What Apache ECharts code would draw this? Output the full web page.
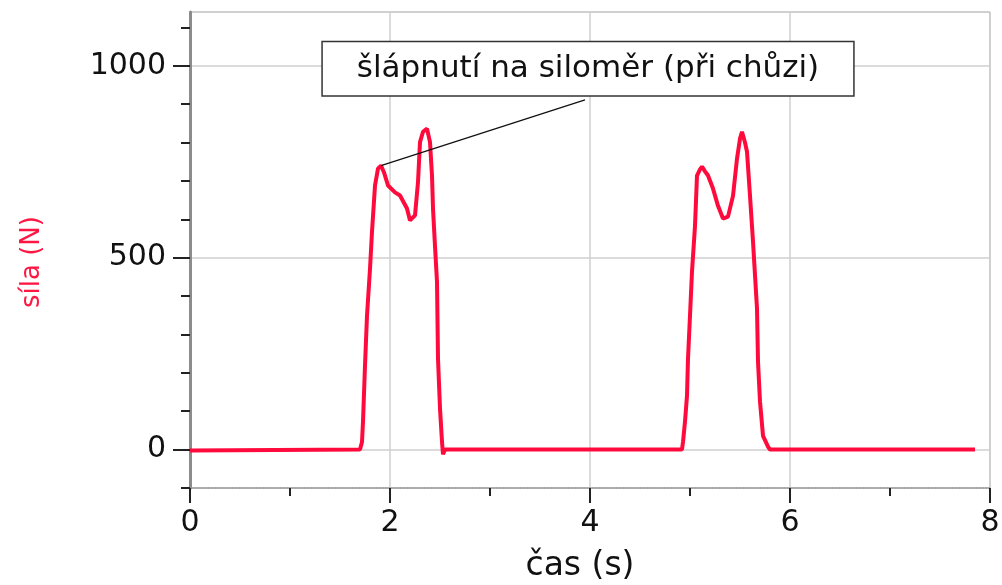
<!DOCTYPE html>
<html>
<head>
<meta charset="utf-8">
<script src="https://cdn.jsdelivr.net/npm/echarts@6/dist/echarts.min.js"></script>
<style>
  html, body { margin: 0; padding: 0; background: #fff; }
  #chart { width: 1002px; height: 585px; }
</style>
</head>
<body>
<div id="chart"></div>
<script>
// čas (s)
const casS = [
  0, 1.70, 1.72, 1.73, 1.75, 1.77, 1.80, 1.82, 1.85, 1.88, 1.91,
  1.94, 1.98, 2.05, 2.10, 2.17, 2.20, 2.22, 2.25, 2.28, 2.30, 2.33, 2.37, 2.40, 2.42,
  2.43, 2.45, 2.47, 2.48, 2.50, 2.52, 2.53, 2.55, 2.60,
  4.92, 4.93, 4.95, 4.97, 4.98, 5.00, 5.02, 5.05, 5.07, 5.10, 5.12, 5.15, 5.18, 5.23,
  5.28, 5.33, 5.38, 5.43, 5.47, 5.50, 5.52, 5.55, 5.57, 5.60, 5.63, 5.67, 5.68, 5.70,
  5.73, 5.78, 5.80, 7.85
];
// síla (N)
const silaN = [
  -2, 0, 20, 73, 219, 349, 471, 568, 688, 732, 740,
  722, 688, 670, 662, 628, 597, 593, 610, 697, 801, 828, 836, 801, 714,
  628, 530, 437, 237, 107, 21, -12, 0, 0,
  0, 20, 73, 141, 237, 349, 464, 583, 714, 730, 737, 725, 714, 680,
  635, 602, 607, 661, 758, 810, 828, 800, 776, 661, 542, 367, 229, 125,
  36, 8, 0, 0
];
// osa y: malé dílky po 100, popisky po 500
const yMinorTicks = [-100, 0, 100, 200, 300, 400, 500, 600, 700, 800, 900, 1000, 1100];
const yMajorTicks = [0, 500, 1000];
const xLabels = [0, 2, 4, 6, 8];

// popisek
const poznamka = 'šlápnutí na siloměr (při chůzi)';
const poznamkaBod = [3.98, 992];
const odkazOd = [1.91, 740];
const odkazDo = [3.95, 911];

const chart = echarts.init(document.getElementById('chart'), null, { renderer: 'canvas' });

const font = 'DejaVu Sans';

const option = {
  animation: false,
  grid: {
    left: 190,
    right: 12,
    top: 12,
    bottom: 97,
    outerBoundsMode: 'none',
    containLabel: false,
    show: true,
    borderColor: '#a0a0a0',
    borderWidth: 1
  },
  xAxis: {
    type: 'value',
    min: 0,
    max: 8,
    interval: 2,
    name: 'čas (s)',
    nameLocation: 'middle',
    nameGap: 62,
    nameTextStyle: { fontFamily: font, fontSize: 33, color: '#111', padding: [0, 20, 0, 0] },
    axisLine: { onZero: false, lineStyle: { color: '#999', width: 1.5, type: 'dotted' } },
    axisTick: { show: true, length: 15, lineStyle: { color: '#222', width: 2 } },
    minorTick: { show: true, splitNumber: 2, length: 8, lineStyle: { color: '#222', width: 2 } },
    axisLabel: {
      fontFamily: font, fontSize: 30, color: '#111', margin: 20,
      formatter: function (v) { return xLabels.indexOf(v) >= 0 ? String(v) : ''; }
    },
    splitLine: { show: true, lineStyle: { color: '#cfcfcf', width: 1.5 } },
    minorSplitLine: { show: false }
  },
  yAxis: [
    {
      type: 'value',
      min: -100,
      max: 1140,
      interval: 100,
      position: 'left',
      name: 'síla (N)',
      nameLocation: 'middle',
      nameRotate: 90,
      nameGap: 145,
      nameTextStyle: { fontFamily: font, fontSize: 26, color: '#ff1744', padding: [0, 24, 0, 0] },
      axisLine: { show: true, onZero: false, lineStyle: { color: '#8c8c8c', width: 3 } },
      axisTick: { show: true, length: 9, customValues: yMinorTicks, lineStyle: { color: '#222', width: 2 } },
      axisLabel: {
        fontFamily: font, fontSize: 30, color: '#111', margin: 24,
        customValues: yMajorTicks,
        formatter: function (v) { return String(v); }
      },
      splitLine: {
        show: true,
        lineStyle: { color: ['transparent', '#cfcfcf', 'transparent', 'transparent', 'transparent'], width: 1.5 }
      }
    },
    {
      type: 'value',
      min: -100,
      max: 1140,
      interval: 100,
      position: 'left',
      axisLine: { show: false },
      axisTick: { show: true, length: 17, customValues: yMajorTicks, lineStyle: { color: '#222', width: 2 } },
      axisLabel: { show: false },
      splitLine: { show: false }
    }
  ],
  series: [
    {
      type: 'line',
      xAxisIndex: 0,
      yAxisIndex: 0,
      data: casS.map(function (t, i) { return [t, silaN[i]]; }),
      showSymbol: false,
      lineStyle: { color: '#ff0a3c', width: 4 },
      markLine: {
        silent: true,
        symbol: ['none', 'none'],
        z: 5,
        label: { show: false },
        lineStyle: { color: '#111', width: 1.3, type: 'solid' },
        data: [[{ coord: odkazOd }, { coord: odkazDo }]]
      },
      markPoint: {
        silent: true,
        z: 6,
        data: [{
          coord: poznamkaBod,
          symbol: 'rect',
          symbolSize: 1,
          itemStyle: { color: 'transparent' },
          label: {
            show: true,
            position: 'inside',
            formatter: poznamka,
            fontFamily: font,
            fontSize: 31,
            color: '#111',
            backgroundColor: '#fff',
            borderColor: '#333',
            borderWidth: 1.5,
            padding: [11, 34, 11, 34]
          }
        }]
      }
    }
  ]
};

chart.setOption(option);
</script>
</body>
</html>
